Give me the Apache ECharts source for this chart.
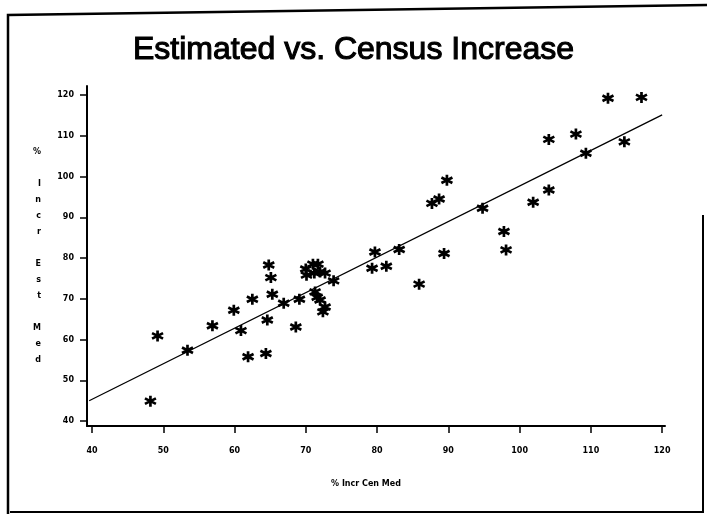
<!DOCTYPE html>
<html><head><meta charset="utf-8">
<script src="https://cdn.jsdelivr.net/npm/echarts@6/dist/echarts.min.js"></script>
<style>html,body{margin:0;padding:0;background:#fff}#c{width:707px;height:514px}</style>
</head><body><div id="c"></div>
<script>
const titleText = 'Estimated vs. Census Increase';
const xAxisTitle = '% Incr Cen Med';
const yAxisTitle = '% Incr Est Med';
const xTicks = [40, 50, 60, 70, 80, 90, 100, 110, 120];
const yTicks = [40, 50, 60, 70, 80, 90, 100, 110, 120];
const censusX = [49.2, 48.2, 53.4, 56.9, 59.9, 60.9, 62.5, 61.9, 64.8, 65.1, 65.3, 64.6, 64.4, 66.9, 68.6, 69.1,
  70.0, 70.1, 71.0, 71.7, 71.2, 72.0, 72.7, 71.3, 71.6, 72.0, 72.7, 72.4, 73.9, 79.7, 79.3, 81.3, 83.1, 85.9,
  89.4, 87.7, 88.7, 89.8, 94.8, 97.8, 98.1, 101.9, 104.1, 104.1, 107.9, 109.3, 112.4, 114.7, 117.1];
const estimatedY = [60.9, 44.9, 57.4, 63.4, 67.2, 62.2, 69.9, 55.8, 78.3, 75.2, 71.1, 64.8, 56.6, 68.9, 63.1, 69.9,
  77.3, 75.8, 78.5, 78.5, 76.3, 76.6, 76.3, 71.7, 70.4, 69.7, 68.0, 66.8, 74.4, 81.5, 77.5, 78.0, 82.1, 73.6,
  81.1, 93.4, 94.5, 99.1, 92.2, 86.5, 82.0, 93.7, 96.7, 109.1, 110.4, 105.7, 119.2, 108.5, 119.4];
const fitX = [39.6, 120];
const fitY = [45.0, 115.1];

const chart = echarts.init(document.getElementById('c'));
const lblStyle = { color: '#000', fontSize: 8, fontWeight: 'bold', fontFamily: 'DejaVu Sans' };
const star = 'path://M0,-5L0,5M-4.33,-2.5L4.33,2.5M-4.33,2.5L4.33,-2.5';
chart.setOption({
  animation: false,
  backgroundColor: '#fff',
  title: {
    text: titleText, left: 'center', top: 29,
    textStyle: { fontFamily: 'Liberation Sans', fontSize: 32, fontWeight: 'normal', color: '#000',
      textBorderColor: '#000', textBorderWidth: 1.1 }
  },
  grid: { left: 87, right: 42, top: 86, bottom: 88 },
  xAxis: {
    type: 'value', min: 39.3, max: 120.4,
    name: xAxisTitle, nameLocation: 'middle', nameGap: 54,
    nameTextStyle: Object.assign({ padding: [0, 20, 0, 0] }, lblStyle),
    axisLine: { lineStyle: { color: '#000', width: 2 } },
    axisTick: { customValues: xTicks, length: 7, lineStyle: { color: '#000', width: 1.5 } },
    axisLabel: Object.assign({ customValues: xTicks, margin: 21 }, lblStyle),
    splitLine: { show: false }
  },
  yAxis: {
    type: 'value', min: 38.8, max: 122.2,
    name: yAxisTitle.split('').join('\n'), nameLocation: 'middle', nameRotate: 0, nameGap: 46,
    nameTextStyle: Object.assign({ lineHeight: 16, padding: [12, 0, 0, 0] }, lblStyle),
    axisLine: { lineStyle: { color: '#000', width: 2 } },
    axisTick: { customValues: yTicks, length: 7, lineStyle: { color: '#000', width: 1.5 } },
    axisLabel: Object.assign({ customValues: yTicks, margin: 13 }, lblStyle),
    splitLine: { show: false }
  },
  series: [
    {
      type: 'scatter', data: censusX.map((x, i) => [x, estimatedY[i]]),
      symbol: star, symbolSize: 11,
      itemStyle: { color: 'none', borderColor: '#000', borderWidth: 2.7, opacity: 1 }
    },
    {
      type: 'line', data: fitX.map((x, i) => [x, fitY[i]]), symbol: 'none',
      lineStyle: { color: '#000', width: 1.3 }
    }
  ],
  graphic: [
    { type: 'polyline', shape: { points: [[8, 514], [8, 15], [707, 5]] }, style: { stroke: '#000', lineWidth: 2.5, fill: null } },
    { type: 'polyline', shape: { points: [[703, 215], [703, 512], [10, 512]] }, style: { stroke: '#000', lineWidth: 2, fill: null } }
  ]
});
</script></body></html>
